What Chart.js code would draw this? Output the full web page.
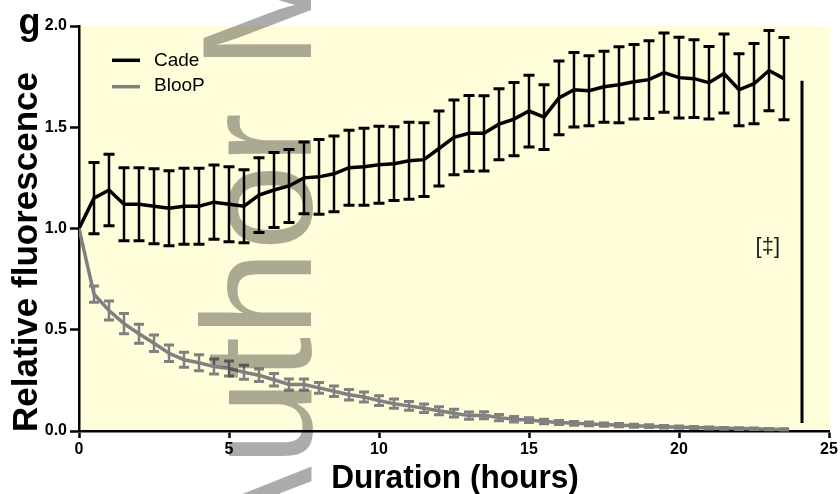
<!DOCTYPE html>
<html>
<head>
<meta charset="utf-8">
<script src="https://cdn.jsdelivr.net/npm/chart.js@4.4.1/dist/chart.umd.min.js"></script>
<style>
html,body{margin:0;padding:0;background:#fff;}
canvas{display:block;}
</style>
</head>
<body>
<canvas id="c" width="840" height="494"></canvas>
<script>
// ---- data ----
const hours = [0,0.5,1,1.5,2,2.5,3,3.5,4,4.5,5,5.5,6,6.5,7,7.5,8,8.5,9,9.5,10,10.5,11,11.5,12,12.5,13,13.5,14,14.5,15,15.5,16,16.5,17,17.5,18,18.5,19,19.5,20,20.5,21,21.5,22,22.5,23,23.5];
const cadeMean = [1.00,1.15,1.19,1.12,1.12,1.11,1.10,1.11,1.11,1.13,1.12,1.11,1.165,1.19,1.21,1.25,1.255,1.27,1.30,1.305,1.315,1.32,1.335,1.34,1.395,1.45,1.47,1.47,1.515,1.54,1.58,1.55,1.645,1.685,1.68,1.70,1.71,1.725,1.735,1.77,1.745,1.74,1.72,1.765,1.685,1.715,1.78,1.74];
const cadeErr = [0,0.176,0.177,0.18,0.18,0.185,0.185,0.188,0.188,0.183,0.185,0.18,0.185,0.185,0.18,0.177,0.185,0.187,0.185,0.19,0.19,0.182,0.19,0.182,0.185,0.185,0.187,0.186,0.175,0.181,0.177,0.16,0.182,0.184,0.173,0.175,0.188,0.184,0.192,0.196,0.199,0.192,0.179,0.195,0.178,0.198,0.198,0.203];
const bloopMean = [1.00,0.676,0.595,0.53,0.48,0.433,0.384,0.352,0.337,0.318,0.309,0.29,0.275,0.253,0.23,0.23,0.213,0.196,0.179,0.168,0.15,0.135,0.124,0.112,0.10,0.088,0.076,0.078,0.066,0.058,0.054,0.047,0.042,0.038,0.035,0.032,0.029,0.026,0.024,0.021,0.019,0.017,0.015,0.013,0.012,0.011,0.009,0.008];
const bloopErr = [0,0.04,0.047,0.05,0.047,0.041,0.041,0.037,0.039,0.037,0.037,0.035,0.031,0.031,0.027,0.027,0.027,0.026,0.026,0.025,0.024,0.023,0.022,0.021,0.02,0.019,0.018,0.017,0.015,0.014,0.012,0.011,0.01,0.009,0.009,0.008,0.008,0.007,0.007,0.006,0.006,0.005,0.005,0.004,0.004,0.004,0.003,0.003];
const seriesNames = ['Cade','BlooP'];
const sigBarX = [24.1, 24.1];
const sigBarY = [1.73, 0.04];
const sigText = '[‡]';
const sigTextAt = [22.96, 0.91];
const xTickValues = [0,5,10,15,20,25];
const yTickLabels = ['0.0','0.5','1.0','1.5','2.0'];
const xTitle = 'Duration (hours)';
const yTitle = 'Relative fluorescence';
const panelLetter = 'g';
const watermark = 'Author Manuscript';

const FONT = '"Liberation Sans", Arial, Helvetica, sans-serif';
const GRAY = '#808080';

const pts = (xs, ys) => xs.map((x, i) => ({x: x, y: ys[i]}));

const decor = {
  id: 'decor',
  beforeDraw(chart) {
    const {ctx, chartArea: a} = chart;
    ctx.save();
    ctx.fillStyle = 'rgb(255,253,218)';
    ctx.fillRect(a.left, a.top, a.right - a.left, a.bottom - a.top);
    ctx.restore();
  },
  afterDatasetsDraw(chart) {
    const {ctx} = chart;
    const xs = chart.scales.x, ys = chart.scales.y;
    chart.data.datasets.forEach((ds) => {
      if (!ds.errors) return;
      ctx.save();
      ctx.strokeStyle = ds.borderColor;
      ds.data.forEach((p, i) => {
        const e = ds.errors[i];
        if (!e) return;
        const x = xs.getPixelForValue(p.x);
        const y1 = ys.getPixelForValue(p.y + e);
        const y2 = ys.getPixelForValue(p.y - e);
        ctx.lineWidth = 2.5;
        ctx.beginPath();
        ctx.moveTo(x, y1); ctx.lineTo(x, y2);
        ctx.stroke();
        ctx.lineWidth = 3;
        const w = ds.capHalf;
        ctx.beginPath();
        ctx.moveTo(x - w, y1); ctx.lineTo(x + w, y1);
        ctx.moveTo(x - w, y2); ctx.lineTo(x + w, y2);
        ctx.stroke();
      });
      ctx.restore();
    });
    // significance label
    ctx.save();
    ctx.fillStyle = '#1e1e1e';
    ctx.font = '22px ' + FONT;
    ctx.textAlign = 'center';
    ctx.textBaseline = 'middle';
    ctx.fillText(sigText, xs.getPixelForValue(sigTextAt[0]), ys.getPixelForValue(sigTextAt[1]));
    ctx.restore();
  },
  afterDraw(chart) {
    const {ctx} = chart;
    ctx.save();
    // legend
    const leg = [[seriesNames[0], '#000', 60.3, 60.5], [seriesNames[1], GRAY, 86.7, 85.8]];
    leg.forEach(([name, col, ly, ty]) => {
      ctx.strokeStyle = col; ctx.lineWidth = 3.5;
      ctx.beginPath(); ctx.moveTo(112, ly); ctx.lineTo(140, ly); ctx.stroke();
      ctx.fillStyle = '#000';
      ctx.font = '19px ' + FONT;
      ctx.textAlign = 'left'; ctx.textBaseline = 'middle';
      ctx.fillText(name, 154, ty);
    });
    // panel letter
    ctx.fillStyle = '#000';
    ctx.font = 'bold 36px ' + FONT;
    ctx.textAlign = 'left'; ctx.textBaseline = 'alphabetic';
    ctx.fillText(panelLetter, 18.5, 34);
    // y title
    ctx.save();
    ctx.translate(37, 252);
    ctx.rotate(-Math.PI / 2);
    ctx.font = 'bold 35px ' + FONT;
    ctx.textAlign = 'center'; ctx.textBaseline = 'alphabetic';
    ctx.fillText(yTitle, 0, 0);
    ctx.restore();
    // x title
    ctx.save();
    ctx.translate(455, 488);
    ctx.scale(0.93, 1);
    ctx.font = 'bold 34px ' + FONT;
    ctx.textAlign = 'center'; ctx.textBaseline = 'alphabetic';
    ctx.fillText(xTitle, 0, 0);
    ctx.restore();
    // watermark
    ctx.save();
    ctx.translate(311, 569.5);
    ctx.rotate(-Math.PI / 2);
    ctx.font = '155px ' + FONT;
    ctx.fillStyle = 'rgba(0,0,0,0.33)';
    ctx.textAlign = 'left'; ctx.textBaseline = 'alphabetic';
    ctx.fillText(watermark, 0, 0);
    ctx.restore();
    ctx.restore();
  }
};

new Chart(document.getElementById('c'), {
  type: 'line',
  data: {
    datasets: [
      {label: seriesNames[0], data: pts(hours, cadeMean), errors: cadeErr, capHalf: 5.5,
       borderColor: '#000', borderWidth: 3.5, pointRadius: 0, tension: 0, order: 2},
      {label: seriesNames[1], data: pts(hours, bloopMean), errors: bloopErr, capHalf: 5,
       borderColor: GRAY, borderWidth: 3.5, pointRadius: 0, tension: 0, order: 1},
      {label: 'sig', data: pts(sigBarX, sigBarY), borderColor: '#000', borderWidth: 3,
       pointRadius: 0, tension: 0, order: 3}
    ]
  },
  options: {
    responsive: false,
    animation: false,
    devicePixelRatio: 1,
    layout: {padding: {left: 0, right: 11, top: 26, bottom: 0}},
    plugins: {legend: {display: false}, tooltip: {enabled: false}},
    scales: {
      x: {
        type: 'linear', min: 0, max: 25,
        afterBuildTicks: (s) => { s.ticks = xTickValues.map(v => ({value: v})); },
        afterFit: (s) => { s.height = 63; },
        ticks: {color: '#000', font: {family: FONT, size: 16, weight: 'bold'}, padding: 2, maxRotation: 0,
                callback: (v) => String(v)},
        grid: {display: true, drawOnChartArea: false, drawTicks: true, tickLength: 7, tickWidth: 2.5, tickColor: '#000'},
        border: {display: true, color: '#000', width: 2.5}
      },
      y: {
        type: 'linear', min: 0, max: 2,
        afterBuildTicks: (s) => { s.ticks = yTickLabels.map((t, i) => ({value: i * 0.5})); },
        afterFit: (s) => { s.width = 79; },
        ticks: {color: '#000', font: {family: FONT, size: 16, weight: 'bold'}, padding: 3,
                callback: (v, i) => yTickLabels[i]},
        grid: {display: true, drawOnChartArea: false, drawTicks: true, tickLength: 9, tickWidth: 2.5, tickColor: '#000'},
        border: {display: true, color: '#000', width: 2.5}
      }
    }
  },
  plugins: [decor]
});
</script>
</body>
</html>
